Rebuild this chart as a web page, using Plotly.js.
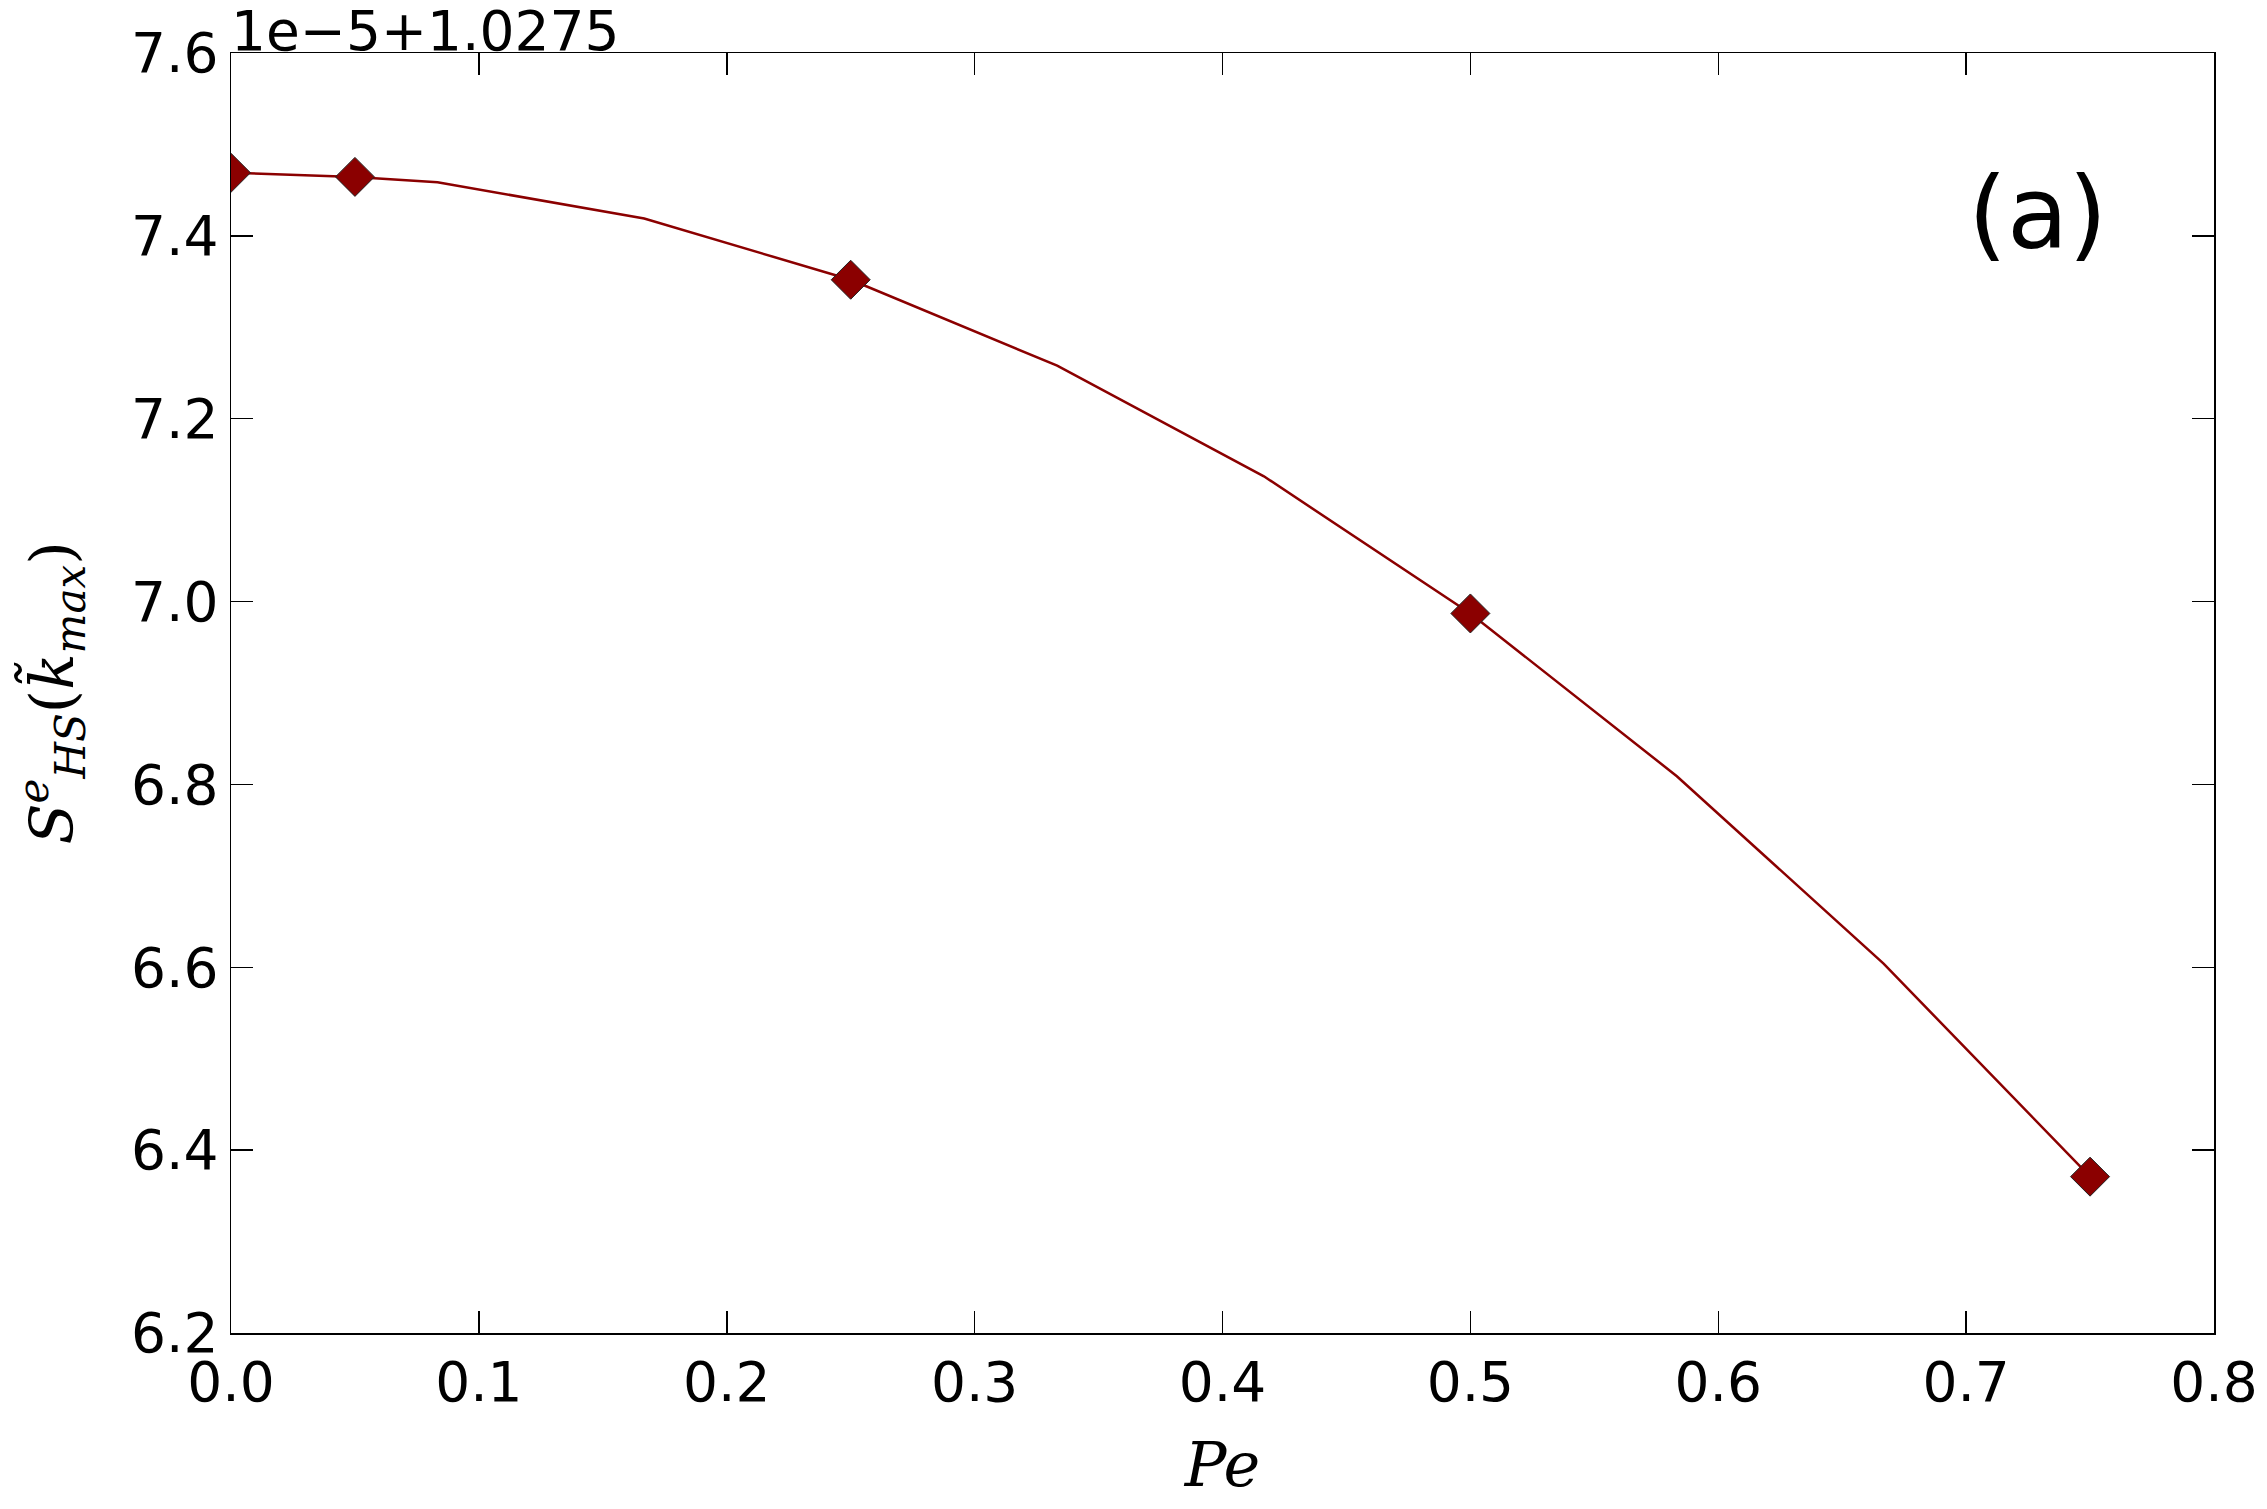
<!DOCTYPE html>
<html>
<head>
<meta charset="utf-8">
<script src="https://cdn.plot.ly/plotly-3.0.1.min.js"></script>
<style>html,body{margin:0;padding:0;background:#fff;}#chart{width:2267px;height:1509px;}</style>
</head>
<body>
<div id="chart"></div>
<script>
// Line series (Pe grid) — values shown relative to offset 1e-5 + 1.0275
const linePe = [0, 0.05, 0.0833, 0.1667, 0.25, 0.3333, 0.4167, 0.5, 0.5833, 0.6667, 0.75];
const lineS  = [7.469, 7.4645, 7.4586, 7.419, 7.352, 7.258, 7.137, 6.987, 6.809, 6.604, 6.371];
// Marker series
const markPe = [0, 0.05, 0.25, 0.5, 0.75];
const markS  = [7.469, 7.4645, 7.352, 6.987, 6.371];
// Axis ticks
const xTicks = [0, 0.1, 0.2, 0.3, 0.4, 0.5, 0.6, 0.7, 0.8];
const yTicks = [6.2, 6.4, 6.6, 6.8, 7.0, 7.2, 7.4, 7.6];
const offsetText = "1e\u22125+1.0275";
const panelLabel = "(a)";

const red = "#8b0000";
const tickFont = {family: "DejaVu Sans", size: 55, color: "#000"};

const traces = [
  {x: linePe, y: lineS, mode: "lines", line: {color: red, width: 2.5}, hoverinfo: "skip", showlegend: false},
  {x: markPe, y: markS, mode: "markers", marker: {symbol: "diamond", size: 30, color: red, line: {color: "#222", width: 1}}, showlegend: false}
];

const axisCommon = {
  showgrid: false, zeroline: false, showline: true, linecolor: "#000", linewidth: 1.5,
  mirror: "allticks", ticks: "inside", ticklen: 22, tickwidth: 1.5, tickcolor: "#000",
  tickfont: tickFont, tickformat: ".1f", tickmode: "array"
};

const layout = {
  width: 2267, height: 1509,
  margin: {l: 231, r: 53, t: 53, b: 176},
  paper_bgcolor: "#fff", plot_bgcolor: "#fff",
  xaxis: Object.assign({}, axisCommon, {
    range: [0, 0.8], tickvals: xTicks,
    title: {text: "<i>Pe</i>", font: {family: "DejaVu Serif", size: 62, color: "#000"}, standoff: 30}
  }),
  yaxis: Object.assign({}, axisCommon, {
    range: [6.2, 7.6], tickvals: yTicks,
    title: {text: "<i>S</i><sup><i>e</i></sup><sub><i>HS</i></sub>(<i>k\u0303</i><sub><i>max</i></sub>)",
            font: {family: "DejaVu Serif", size: 60, color: "#000"}, standoff: 38}
  }),
  annotations: [
    {text: offsetText, xref: "paper", yref: "paper", x: 0, y: 1, xanchor: "left", yanchor: "bottom",
     showarrow: false, font: tickFont, yshift: -12, xshift: -2},
    {text: panelLabel, xref: "paper", yref: "paper", x: (2037-231)/1983, y: 1-(213-53)/1280,
     xanchor: "center", yanchor: "middle", showarrow: false,
     font: {family: "DejaVu Sans", size: 100, color: "#000"}}
  ]
};

Plotly.newPlot("chart", traces, layout, {displayModeBar: false, staticPlot: true});
</script>
</body>
</html>
